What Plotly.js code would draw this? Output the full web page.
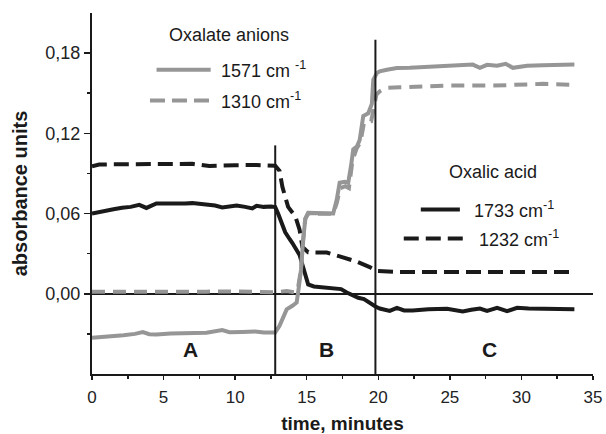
<!DOCTYPE html>
<html>
<head>
<meta charset="utf-8">
<script src="https://cdn.plot.ly/plotly-3.0.1.min.js"></script>
<style>
  html, body { margin: 0; padding: 0; background: #fff; }
  #chart { width: 606px; height: 434px; }
</style>
</head>
<body>
<div id="chart"></div>
<script>
// Oxalic acid, 1733 cm-1 band (black solid)
const t1733 = [0, 0.5, 1.0, 1.5, 2.1, 2.7, 3.3, 3.8, 4.5, 5.5, 6.5, 7.0, 8.0, 8.6, 9.1, 9.6, 10.1, 10.7, 11.2, 11.5, 12.0, 12.5, 12.8,
  13.0, 13.2, 13.5, 13.8, 14.0, 14.5, 14.8, 15.1, 15.5, 16.0, 16.5, 17.0, 17.4, 17.8, 18.2, 18.6, 19.0, 19.4, 19.8,
  20.1, 20.8, 21.3, 21.8, 22.4, 23.5, 24.8, 25.4, 25.9, 26.5, 27.1, 27.6, 28.3, 29.0, 29.7, 30.5, 31.8, 32.8, 33.7];
const a1733 = [0.0600, 0.0612, 0.0625, 0.0632, 0.0643, 0.0650, 0.0665, 0.0642, 0.0676, 0.0672, 0.0675, 0.0678, 0.0665, 0.0660, 0.0646, 0.0655, 0.0660, 0.0650, 0.0638, 0.0658, 0.0650, 0.0652, 0.0648,
  0.0600, 0.0540, 0.0460, 0.0410, 0.0380, 0.0290, 0.0180, 0.0070, 0.0055, 0.0050, 0.0048, 0.0040, 0.0035, 0.0010, -0.0010, -0.0030, -0.0040, -0.0070, -0.0095,
  -0.0110, -0.0128, -0.0105, -0.0125, -0.0125, -0.0115, -0.0112, -0.0120, -0.0132, -0.0120, -0.0110, -0.0128, -0.0106, -0.0130, -0.0105, -0.0110, -0.0112, -0.0118, -0.0115];

// Oxalic acid, 1232 cm-1 band (black dashed)
const t1232 = [0, 0.5, 1.5, 3.0, 5.0, 7.0, 8.2, 9.1, 10.0, 11.5, 12.8, 13.1, 13.3, 13.7, 14.2, 14.5, 14.7, 15.1, 16.4, 17.3, 18.5, 19.4, 19.9, 21.5, 25.0, 30.0, 33.7];
const a1232 = [0.0954, 0.0966, 0.0968, 0.0970, 0.0968, 0.0972, 0.0955, 0.0955, 0.0962, 0.0963, 0.0958, 0.0920, 0.0800, 0.0650, 0.0580, 0.0480, 0.0350, 0.0310, 0.0308, 0.0280, 0.0240, 0.0200, 0.0170, 0.0162, 0.0163, 0.0162, 0.0162];

// Oxalate anions, 1571 cm-1 band (grey solid)
const t1571 = [0, 1.0, 2.2, 3.0, 3.55, 4.0, 4.5, 5.5, 6.8, 8.0, 9.1, 9.6, 10.5, 11.4, 12.0, 12.8,
  13.1, 13.6, 14.0, 14.3, 14.45, 14.6, 14.75, 14.9, 15.1, 15.6, 16.2, 16.85, 17.1, 17.3, 17.65, 17.9, 18.1, 18.25, 18.5, 18.7, 18.95, 19.3, 19.55, 19.65, 19.9,
  20.1, 20.6, 21.3, 22.2, 23.6, 25.0, 26.6, 27.1, 27.6, 28.3, 28.9, 29.4, 30.4, 31.5, 32.6, 33.7];
const a1571 = [-0.0329, -0.0322, -0.0310, -0.0300, -0.0287, -0.0302, -0.0304, -0.0298, -0.0297, -0.0292, -0.0272, -0.0288, -0.0285, -0.0282, -0.0290, -0.0290,
  -0.0240, -0.0117, -0.0090, -0.0065, 0.0050, 0.0180, 0.0400, 0.0560, 0.0605, 0.0605, 0.0602, 0.0600, 0.0705, 0.0830, 0.0837, 0.0830, 0.0960, 0.1080, 0.1100, 0.1150, 0.1330, 0.1350, 0.1420, 0.1600, 0.1650,
  0.1664, 0.1676, 0.1689, 0.1690, 0.1700, 0.1705, 0.1714, 0.1690, 0.1712, 0.1705, 0.1720, 0.1690, 0.1706, 0.1710, 0.1712, 0.1714];

// Oxalate anions, 1310 cm-1 band (grey dashed)
const t1310 = [0, 2.0, 4.0, 6.0, 8.0, 10.0, 12.0, 12.8, 13.6, 14.2, 14.4, 14.6, 14.75, 14.9, 15.1, 16.85, 17.1, 17.35, 17.7, 17.95, 18.2, 18.5, 18.75, 19.0, 19.5, 19.7, 19.87,
  20.1, 20.5, 21.5, 23.0, 25.0, 28.0, 31.5, 33.7];
const a1310 = [0.0015, 0.0017, 0.0016, 0.0017, 0.0016, 0.0017, 0.0016, 0.0012, 0.0020, 0.0010, 0.0050, 0.0180, 0.0400, 0.0560, 0.0600, 0.0598, 0.0680, 0.0790, 0.0805, 0.0790, 0.1000, 0.1090, 0.1130, 0.1280, 0.1290, 0.1420, 0.1490,
  0.1514, 0.1540, 0.1545, 0.1552, 0.1557, 0.1557, 0.1570, 0.1563];

// Stage boundaries (minutes) and the height each boundary line reaches
const stageBounds = [12.8, 19.8];
const stageTops = [0.111, 0.190];
const stageNames = ['A', 'B', 'C'];
const stageLabelX = [6.9, 16.4, 27.8];
const stageLabelY = -0.0416;

const yTicks = [0.00, 0.06, 0.12, 0.18];
const yMinor = [-0.03, 0.03, 0.09, 0.15];
const xTicks = [0, 5, 10, 15, 20, 25, 30, 35];

const BLACK = '#1a1a1a';
const GREY = '#969696';
const FONT = 'Liberation Sans, Arial, sans-serif';
const DASH = '15px,7px';

const traces = [
  { x: t1733, y: a1733, name: '1733 cm-1', mode: 'lines', line: { color: BLACK, width: 4 } },
  { x: t1232, y: a1232, name: '1232 cm-1', mode: 'lines', line: { color: BLACK, width: 4, dash: DASH } },
  { x: t1310, y: a1310, name: '1310 cm-1', mode: 'lines', line: { color: GREY, width: 4, dash: '13px,8px' } },
  { x: t1571, y: a1571, name: '1571 cm-1', mode: 'lines', line: { color: GREY, width: 4 } }
];

const shapes = stageBounds.map((b, i) => ({
  type: 'line', xref: 'x', yref: 'y', x0: b, x1: b, y0: -0.06, y1: stageTops[i],
  line: { color: BLACK, width: 2 }, layer: 'above'
}));

// Key samples for the two groups
const keys = [
  { x0: 4.51, x1: 8.29, y: 0.1676, color: GREY, dash: 'solid', text: '1571 cm <sup>-1</sup>', tx: 8.85 },
  { x0: 4.05, x1: 8.29, y: 0.1445, color: GREY, dash: '15px,7px', text: '1310 cm<sup>-1</sup>', tx: 8.85 },
  { x0: 22.97, x1: 25.70, y: 0.0630, color: BLACK, dash: 'solid', text: '1733 cm<sup>-1</sup>', tx: 26.54 },
  { x0: 21.78, x1: 26.05, y: 0.0413, color: BLACK, dash: '15px,7px', text: '1232 cm<sup>-1</sup>', tx: 26.9 }
];
keys.forEach(k => shapes.push({
  type: 'line', xref: 'x', yref: 'y', x0: k.x0, x1: k.x1, y0: k.y, y1: k.y,
  line: { color: k.color, width: 4, dash: k.dash }
}));

const annotations = [
  { x: 5.21, y: 0.1938, text: 'Oxalate anions' },
  { x: 24.79, y: 0.0914, text: 'Oxalic acid' }
].map(a => ({ ...a, xref: 'x', yref: 'y', xanchor: 'left', yanchor: 'middle', showarrow: false,
  font: { family: FONT, size: 18, color: BLACK } }));

keys.forEach(k => annotations.push({
  x: k.tx, y: k.y, xref: 'x', yref: 'y', xanchor: 'left', yanchor: 'middle', showarrow: false,
  text: k.text, font: { family: FONT, size: 18, color: BLACK }
}));

stageNames.forEach((n, i) => annotations.push({
  x: stageLabelX[i], y: stageLabelY, xref: 'x', yref: 'y', showarrow: false,
  text: '<b>' + n + '</b>', font: { family: FONT, size: 21, color: BLACK }
}));

const layout = {
  width: 606, height: 434,
  margin: { l: 92, r: 13, t: 13, b: 60 },
  paper_bgcolor: '#fff', plot_bgcolor: '#fff',
  showlegend: false,
  separators: ', ',
  font: { family: FONT, color: BLACK },
  xaxis: {
    range: [0, 35], tickvals: xTicks, showgrid: false, zeroline: false,
    showline: true, linecolor: BLACK, linewidth: 2,
    ticks: 'outside', ticklen: 4, tickwidth: 1.5, tickcolor: BLACK,
    minor: { dtick: 2.5, tick0: 0, ticks: 'outside', ticklen: 3, tickwidth: 1.5, tickcolor: BLACK, showgrid: false },
    tickfont: { family: FONT, size: 17, color: '#222' },
    ticklabelstandoff: 3,
    title: { text: '<b>time, minutes</b>', font: { family: FONT, size: 19, color: BLACK }, standoff: 12 }
  },
  yaxis: {
    range: [-0.06, 0.21], tickvals: yTicks, tickformat: '.2f', showgrid: false,
    zeroline: true, zerolinecolor: BLACK, zerolinewidth: 2,
    showline: true, linecolor: BLACK, linewidth: 2,
    ticks: 'outside', ticklen: 6, tickwidth: 1.5, tickcolor: BLACK,
    minor: { tickvals: yMinor, ticks: 'outside', ticklen: 3, tickwidth: 1.5, tickcolor: BLACK, showgrid: false },
    tickfont: { family: FONT, size: 18, color: '#222' },
    title: { text: '<b>absorbance units</b>', font: { family: FONT, size: 20, color: BLACK }, standoff: 12 }
  },
  shapes: shapes,
  annotations: annotations
};

Plotly.newPlot('chart', traces, layout, { displayModeBar: false, staticPlot: true });
</script>
</body>
</html>
